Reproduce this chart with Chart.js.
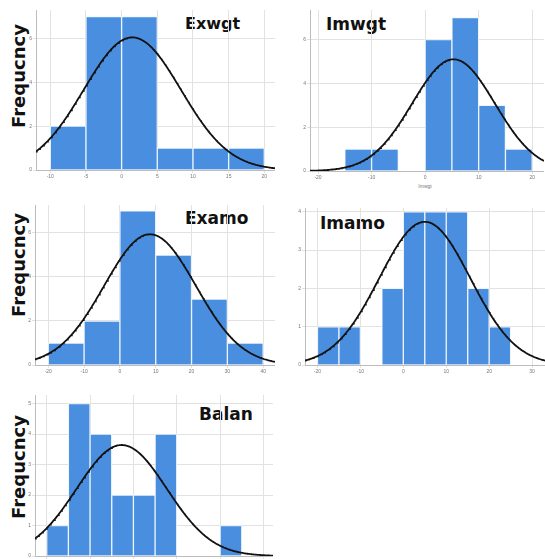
<!DOCTYPE html>
<html>
<head>
<meta charset="utf-8">
<script src="https://cdn.jsdelivr.net/npm/chart.js@4.4.1/dist/chart.umd.min.js"></script>
<style>
  html, body { margin: 0; padding: 0; background: #fff; overflow: hidden; width: 545px; height: 559px; }
  #wrap { position: relative; width: 545px; height: 559px; }
  canvas { position: absolute; }
  .t { position: absolute; font-family: "DejaVu Sans", sans-serif; font-weight: bold; color: #111; line-height: 1; white-space: nowrap; }
  .yl { position: absolute; font-family: "DejaVu Sans", sans-serif; font-weight: bold; font-size: 18px; line-height: 1; color: #111;
        transform: translate(-50%, -50%) rotate(-90deg); white-space: nowrap; }
  .xt { position: absolute; font-family: "Liberation Sans", sans-serif; font-size: 5px; color: #777; line-height: 1;
        transform: translateX(-50%); white-space: nowrap; }
</style>
</head>
<body>
<div id="wrap">
  <div class="yl" style="left:18.5px; top:76px;">Frequcncy</div>
  <div class="yl" style="left:18.5px; top:265px;">Frequcncy</div>
  <div class="yl" style="left:18.5px; top:467px;">Frequcncy</div>
  <div class="t" style="left:185px; top:16px; font-size:16px;">Exwgt</div>
  <div class="t" style="left:326px; top:16px; font-size:17px;">Imwgt</div>
  <div class="t" style="left:185px; top:209.5px; font-size:17px;">Examo</div>
  <div class="t" style="left:320px; top:214.5px; font-size:17px;">Imamo</div>
  <div class="t" style="left:199px; top:406px; font-size:17px;">Balan</div>
  <div class="xt" style="left:425px; top:184px;">Imwgt</div>
</div>
<script>
// Histogram bins (lower edges) and frequencies for each variable
const exwgtEdges  = [-10, -5, 0, 5, 10, 15];
const exwgtCounts = [2, 7, 7, 1, 1, 1];

const imwgtEdges  = [-15, -10, -5, 0, 5, 10, 15];
const imwgtCounts = [1, 1, 0, 6, 7, 3, 1];

const examoEdges  = [-20, -10, 0, 10, 20, 30];
const examoCounts = [1, 2, 7, 5, 3, 1];

const imamoEdges  = [-20, -15, -10, -5, 0, 5, 10, 15, 20];
const imamoCounts = [1, 1, 0, 2, 4, 4, 4, 2, 1];

const balanEdges  = [-20, -15, -10, -5, 0, 5, 10, 15, 20];
const balanCounts = [1, 5, 4, 2, 2, 4, 0, 0, 1];

// Fitted normal curves: mean, standard deviation, peak frequency
const exwgtNormal = { mean: 1.5, sd: 6.8, peak: 6.05 };
const imwgtNormal = { mean: 5.3, sd: 7.7, peak: 5.1 };
const examoNormal = { mean: 8.4, sd: 12.8, peak: 5.94 };
const imamoNormal = { mean: 5.0, sd: 10.6, peak: 3.74 };
const balanNormal = { mean: -2.7, sd: 10.4, peak: 3.64 };

const panels = [
  { edges: exwgtEdges, counts: exwgtCounts, bin: 5,  normal: exwgtNormal,
    x: { min: -12, max: 21.5, step: 5 },  y: { max: 7.3, step: 2 },
    box: { L: 36, R: 275, T: 10, B: 170 } },
  { edges: imwgtEdges, counts: imwgtCounts, bin: 5,  normal: imwgtNormal,
    x: { min: -21.5, max: 22.2, step: 10 }, y: { max: 7.35, step: 2 },
    box: { L: 310, R: 544, T: 10, B: 171 } },
  { edges: examoEdges, counts: examoCounts, bin: 10, normal: examoNormal,
    x: { min: -23.7, max: 43.3, step: 10 }, y: { max: 7.27, step: 2 },
    box: { L: 35, R: 275, T: 205, B: 365 } },
  { edges: imamoEdges, counts: imamoCounts, bin: 5,  normal: imamoNormal,
    x: { min: -22.9, max: 33, step: 10 },   y: { max: 4.1, step: 1 },
    box: { L: 305, R: 545, T: 208, B: 365 } },
  { edges: balanEdges, counts: balanCounts, bin: 5,  normal: balanNormal,
    x: { min: -22.7, max: 32.2, step: 10 }, y: { max: 5.28, step: 1 },
    box: { L: 35, R: 273, T: 395, B: 556 } }
];

const AXIS_W = 12, AXIS_H = 11;
const wrap = document.getElementById('wrap');

function normalCurve(p) {
  const pts = [];
  const steps = 300;
  for (let i = 0; i <= steps; i++) {
    const x = p.x.min + (p.x.max - p.x.min) * i / steps;
    const z = (x - p.normal.mean) / p.normal.sd;
    pts.push({ x: x, y: p.normal.peak * Math.exp(-z * z / 2) });
  }
  return pts;
}

function makePanel(p) {
  const w = p.box.R - p.box.L + AXIS_W;
  const h = p.box.B - p.box.T + AXIS_H;
  const c = document.createElement('canvas');
  c.width = w; c.height = h;
  c.style.left = (p.box.L - AXIS_W) + 'px';
  c.style.top = p.box.T + 'px';
  c.style.width = w + 'px';
  c.style.height = h + 'px';
  wrap.appendChild(c);

  const bars = p.edges.map((e, i) => ({ x: e + p.bin / 2, y: p.counts[i] }));
  const tickFont = { family: 'Liberation Sans', size: 5 };

  new Chart(c, {
    type: 'bar',
    data: {
      datasets: [
        { type: 'line', data: normalCurve(p), borderColor: '#111', borderWidth: 1.8,
          pointRadius: 0, tension: 0, fill: false, order: 0 },
        { data: bars, backgroundColor: '#4a8edf', borderColor: 'rgba(236,244,253,0.95)',
          borderWidth: 1, categoryPercentage: 1, barPercentage: 1, order: 1 }
      ]
    },
    options: {
      responsive: false,
      animation: false,
      devicePixelRatio: 1,
      layout: { padding: 0 },
      plugins: { legend: { display: false }, tooltip: { enabled: false } },
      scales: {
        x: {
          type: 'linear', min: p.x.min, max: p.x.max, offset: false,
          grid: { offset: false, color: '#e2e2e2', tickLength: 3 },
          border: { color: '#bdbdbd' },
          ticks: { stepSize: p.x.step, includeBounds: false, font: tickFont, color: '#777',
                   padding: 1, maxRotation: 0, autoSkip: false },
          afterFit(s) { s.height = AXIS_H; s.paddingLeft = 0; s.paddingRight = 0; }
        },
        y: {
          type: 'linear', min: 0, max: p.y.max,
          grid: { color: '#e2e2e2', tickLength: 3 },
          border: { color: '#bdbdbd' },
          ticks: { stepSize: p.y.step, includeBounds: false, font: tickFont, color: '#777', padding: 1 },
          afterFit(s) { s.width = AXIS_W; s.paddingTop = 0; s.paddingBottom = 0; }
        }
      }
    }
  });
}

panels.forEach(makePanel);
</script>
</body>
</html>
